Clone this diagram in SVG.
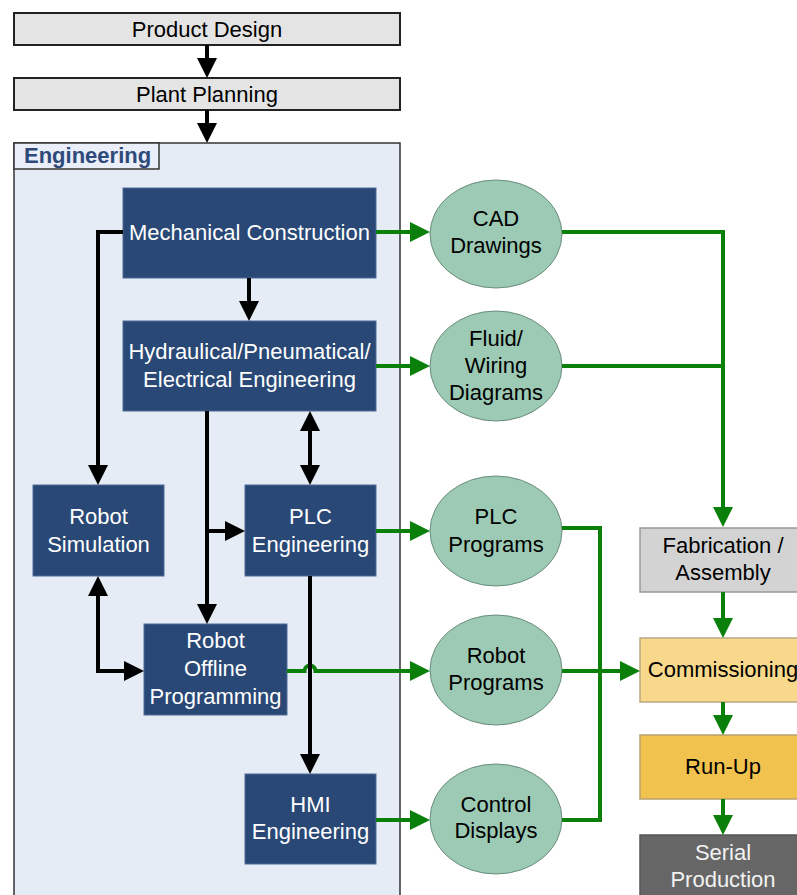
<svg xmlns="http://www.w3.org/2000/svg" width="797" height="895" viewBox="0 0 797 895">
<defs>
<style>
text{font-family:"Liberation Sans",Arial,sans-serif;font-size:22px;text-anchor:middle}
.top{fill:#e4e4e4;stroke:#222;stroke-width:2}
.dark{fill:#294875;stroke:#4d6b95;stroke-width:1}
.dt{fill:#ffffff}
.ell{fill:#9ccab4;stroke:#6b8c7c;stroke-width:1}
.bk{fill:none;stroke:#000;stroke-width:4}
.gr{fill:none;stroke:#0a800a;stroke-width:4}
</style>
<marker id="ab" markerUnits="userSpaceOnUse" markerWidth="20" markerHeight="20" refX="0" refY="10" orient="auto-start-reverse" viewBox="0 0 20 20"><path d="M0,0 L20,10 L0,20 z" fill="#000"/></marker>
<marker id="ag" markerUnits="userSpaceOnUse" markerWidth="20" markerHeight="20" refX="0" refY="10" orient="auto-start-reverse" viewBox="0 0 20 20"><path d="M0,0 L20,10 L0,20 z" fill="#0a800a"/></marker>
</defs>
<rect width="797" height="895" fill="#fff"/>

<g id="engineering">
<rect x="14" y="143" width="386" height="770" fill="#e6ecf6" stroke="#333" stroke-width="1.5"/>
<rect x="14" y="143" width="145" height="26" fill="#e9eef8" stroke="#333" stroke-width="1.5"/>
<text x="24" y="163" style="text-anchor:start;font-weight:bold;fill:#2e4a7b">Engineering</text>
</g>

<g id="product-design"><rect class="top" x="14" y="13" width="386" height="32"/><text x="207" y="37">Product Design</text></g>
<g id="plant-planning"><rect class="top" x="14" y="78" width="386" height="32"/><text x="207" y="102">Plant Planning</text></g>

<g id="mech"><rect class="dark" x="123" y="188" width="253" height="90"/><text class="dt" x="249.5" y="240">Mechanical Construction</text></g>
<g id="hydr"><rect class="dark" x="123" y="321" width="253" height="90"/><text class="dt" x="249.5" y="359">Hydraulical/Pneumatical/</text><text class="dt" x="249.5" y="387">Electrical Engineering</text></g>
<g id="robot-sim"><rect class="dark" x="33" y="485" width="131" height="91"/><text class="dt" x="98.5" y="524">Robot</text><text class="dt" x="98.5" y="552">Simulation</text></g>
<g id="plc-eng"><rect class="dark" x="245" y="485" width="131" height="91"/><text class="dt" x="310.5" y="524">PLC</text><text class="dt" x="310.5" y="552">Engineering</text></g>
<g id="robot-offline"><rect class="dark" x="144" y="624" width="143" height="91"/><text class="dt" x="215.5" y="648">Robot</text><text class="dt" x="215.5" y="676">Offline</text><text class="dt" x="215.5" y="704">Programming</text></g>
<g id="hmi"><rect class="dark" x="245" y="774" width="131" height="90"/><text class="dt" x="310.5" y="812">HMI</text><text class="dt" x="310.5" y="839">Engineering</text></g>

<g id="cad"><ellipse class="ell" cx="496" cy="234" rx="66" ry="54"/><text x="496" y="226">CAD</text><text x="496" y="253">Drawings</text></g>
<g id="fluid"><ellipse class="ell" cx="496" cy="366" rx="66" ry="55"/><text x="496" y="346">Fluid/</text><text x="496" y="373">Wiring</text><text x="496" y="400">Diagrams</text></g>
<g id="plc-prog"><ellipse class="ell" cx="496" cy="531" rx="66" ry="55"/><text x="496" y="524">PLC</text><text x="496" y="552">Programs</text></g>
<g id="robot-prog"><ellipse class="ell" cx="496" cy="670" rx="66" ry="55"/><text x="496" y="663">Robot</text><text x="496" y="690">Programs</text></g>
<g id="control"><ellipse class="ell" cx="496" cy="819" rx="66" ry="55"/><text x="496" y="812">Control</text><text x="496" y="838">Displays</text></g>

<g id="fabrication"><rect x="640" y="528" width="166" height="64" fill="#d3d3d3" stroke="#9a9a9a" stroke-width="1.5"/><text x="723" y="553">Fabrication /</text><text x="723" y="580">Assembly</text></g>
<g id="commissioning"><rect x="640" y="638" width="166" height="64" fill="#f8d98b" stroke="#b8a880" stroke-width="1.5"/><text x="723" y="677">Commissioning</text></g>
<g id="runup"><rect x="640" y="735" width="166" height="64" fill="#f1c24e" stroke="#b8a070" stroke-width="1.5"/><text x="723" y="774">Run-Up</text></g>
<g id="serial"><rect x="640" y="835" width="166" height="80" fill="#666666" stroke="#555" stroke-width="1.5"/><text x="723" y="860" style="fill:#f2f2f2">Serial</text><text x="723" y="887" style="fill:#f2f2f2">Production</text></g>

<g id="connectors">
<path class="bk" d="M207,45 V58" marker-end="url(#ab)"/>
<path class="bk" d="M207,110 V123" marker-end="url(#ab)"/>
<path class="bk" d="M249,278 V301" marker-end="url(#ab)"/>
<path class="bk" d="M123,232 H98 V465" marker-end="url(#ab)"/>
<path class="bk" d="M207,411 V604" marker-end="url(#ab)"/>
<path class="bk" d="M207,531 H225" marker-end="url(#ab)"/>
<path class="bk" d="M310,431 V465" marker-start="url(#ab)" marker-end="url(#ab)"/>
<path class="bk" d="M98,596 V671 H124" marker-start="url(#ab)" marker-end="url(#ab)"/>

<path class="gr" d="M376,232 H410" marker-end="url(#ag)"/>
<path class="gr" d="M376,366 H410" marker-end="url(#ag)"/>
<path class="gr" d="M376,531 H410" marker-end="url(#ag)"/>
<path class="gr" d="M287,671 H304.5 A5.5,5.5 0 0 1 315.5,671 H410" marker-end="url(#ag)"/>
<path class="gr" d="M376,820 H410" marker-end="url(#ag)"/>
<path class="gr" d="M562,232 H723 V507" marker-end="url(#ag)"/>
<path class="gr" d="M562,366 H723"/>
<path class="gr" d="M562,528 H600 V820 H562"/>
<path class="gr" d="M562,671 H620" marker-end="url(#ag)"/>
<path class="gr" d="M723,592 V618" marker-end="url(#ag)"/>
<path class="gr" d="M723,702 V715" marker-end="url(#ag)"/>
<path class="gr" d="M723,799 V815" marker-end="url(#ag)"/>

<path class="bk" d="M310,576 V754" marker-end="url(#ab)"/>
</g>
</svg>
